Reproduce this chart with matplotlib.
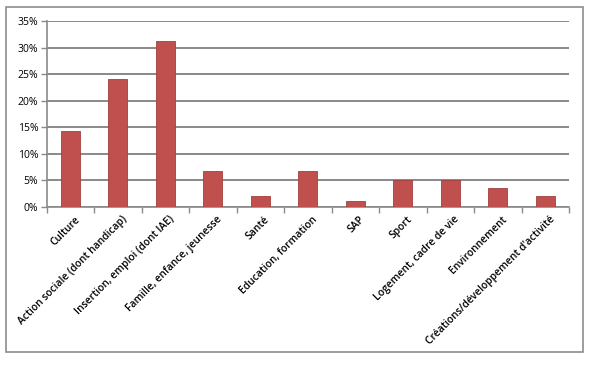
import matplotlib.pyplot as plt
from matplotlib.patches import Rectangle
from matplotlib.ticker import PercentFormatter

categories = [
    "Culture",
    "Action sociale (dont handicap)",
    "Insertion, emploi (dont IAE)",
    "Famille, enfance, jeunesse",
    "Santé",
    "Education, formation",
    "SAP",
    "Sport",
    "Logement, cadre de vie",
    "Environnement",
    "Créations/développement d'activité",
]
shares = [14.3, 24.1, 31.3, 6.7, 2.1, 6.7, 1.1, 5.0, 5.0, 3.5, 2.1]
y_ticks = [0, 5, 10, 15, 20, 25, 30, 35]

plt.rcParams["font.family"] = ["Open Sans", "DejaVu Sans"]

fig = plt.figure(figsize=(5.91, 3.68), dpi=100)
ax = fig.add_axes([0.079, 0.4375, 0.884, 0.5055])

# outer chart frame
fig.patches.append(Rectangle((0.010, 0.044), 0.976, 0.936, transform=fig.transFigure,
                             fill=False, edgecolor="#8c8c8c", linewidth=1.2))

x = range(len(categories))
ax.bar(x, shares, width=0.4, color="#C0504D", edgecolor="#A0403D", linewidth=0.6, zorder=3)

ax.set_ylim(0, 35)
ax.set_xlim(-0.5, len(categories) - 0.5)
ax.set_yticks(y_ticks)
ax.yaxis.set_major_formatter(PercentFormatter(decimals=0))
ax.grid(axis="y", color="#808080", linewidth=1.3, zorder=0)

ax.set_xticks([i + 0.5 for i in range(-1, len(categories))])
ax.set_xticklabels([])
ax.tick_params(axis="x", length=4, color="#8a8a8a", width=1)
ax.tick_params(axis="y", length=4, color="#8a8a8a", width=1, labelsize=7.5, pad=2)

for i, label in enumerate(categories):
    ax.text(i + 0.08, -1.3, label, rotation=45, ha="right", va="top",
            rotation_mode="anchor", fontsize=7.4, fontweight="semibold")

for side in ["top", "right"]:
    ax.spines[side].set_visible(False)
ax.spines["left"].set_color("#8a8a8a")
ax.spines["bottom"].set_color("#8a8a8a")
ax.spines["left"].set_linewidth(1.2)
ax.spines["bottom"].set_linewidth(1.2)

fig.savefig("out.png", dpi=100)
